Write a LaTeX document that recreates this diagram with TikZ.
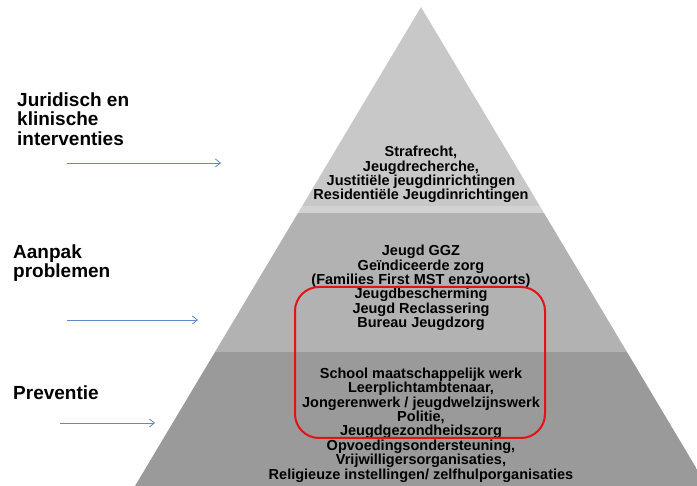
\documentclass[tikz,border=0pt]{standalone}
\usepackage{fontspec}
\setmainfont{Liberation Sans}
\usetikzlibrary{arrows.meta}

\definecolor{topgray}{RGB}{200,200,200}
\definecolor{bandgray}{RGB}{210,210,210}
\definecolor{midgray}{RGB}{178,178,178}
\definecolor{lowgray}{RGB}{154,154,154}
\definecolor{arrowblue}{RGB}{96,136,196}
\definecolor{boxred}{RGB}{226,18,22}

\begin{document}
\begin{tikzpicture}[x=1pt,y=-1pt,
  layertext/.style={align=center, inner sep=0pt, font=\bfseries\fontsize{14.5}{14.4}\selectfont},
  sidelabel/.style={anchor=west, align=left, inner sep=0pt, font=\bfseries\fontsize{19}{19.5}\selectfont},
  pointer/.style={-{Straight Barb[length=5pt,width=8pt]}, color=arrowblue, line width=0.8pt}]

\useasboundingbox (0,0) rectangle (697,486);

% pyramid: three layers cut out of one triangle
\begin{scope}
\clip (0,0) rectangle (697,486);
\clip (421,7) -- (707,486) -- (135,486) -- cycle;
\fill[topgray] (0,0) rectangle (697,206);
\fill[bandgray] (0,206) rectangle (697,213);
\fill[midgray] (0,213) rectangle (697,352);
\fill[lowgray] (0,352) rectangle (697,486);
\end{scope}

% top layer
\node[layertext] (juridisch) at (421,174.5) {Strafrecht,\\Jeugdrecherche,\\Justitiële jeugdinrichtingen\\Residentiële Jeugdinrichtingen};

% middle layer
\node[layertext] (aanpak) at (421,288) {Jeugd GGZ\\Geïndiceerde zorg\\(Families First MST enzovoorts)\\Jeugdbescherming\\Jeugd Reclassering\\Bureau Jeugdzorg};

% lower layer
\node[layertext] (preventie) at (421,425) {School maatschappelijk werk\\Leerplichtambtenaar,\\Jongerenwerk / jeugdwelzijnswerk\\Politie,\\Jeugdgezondheidszorg\\Opvoedingsondersteuning,\\Vrijwilligersorganisaties,\\Religieuze instellingen/ zelfhulporganisaties};

% red frame across middle and lower layer
\node[draw=boxred, line width=2pt, rounded corners=24pt, minimum width=250pt, minimum height=151pt, inner sep=0pt] (focus) at (420,362.5) {};

% labels on the left
\node[sidelabel] (lblJur) at (17,119) {Juridisch en\\klinische\\interventies};
\node[sidelabel] (lblAan) at (13,263) {Aanpak\\problemen};
\node[sidelabel] (lblPre) at (13,393) {Preventie};

% pointers towards the pyramid
\coordinate (jurStart) at (67,163);
\coordinate (jurEnd) at (221,163);
\coordinate (aanStart) at (67,320);
\coordinate (aanEnd) at (198,320);
\coordinate (preStart) at (60,423);
\coordinate (preEnd) at (155,423);
\draw[pointer] (jurStart) -- (jurEnd);
\draw[pointer] (aanStart) -- (aanEnd);
\draw[pointer] (preStart) -- (preEnd);

\end{tikzpicture}
\end{document}
